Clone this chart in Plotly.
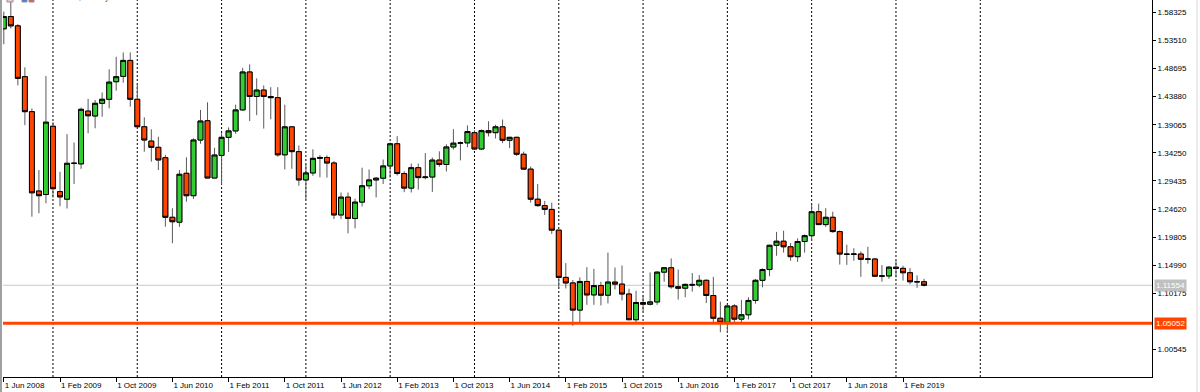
import plotly.graph_objects as go
import pandas as pd
import numpy as np

# Monthly EURUSD candles, Jun 2008 .. May 2019
open_ = [
    1.5550, 1.5760, 1.5600, 1.4730, 1.4130, 1.2770, 1.2710,
    1.3880, 1.2760, 1.2630, 1.3245, 1.3235, 1.4140, 1.4056, 1.4273, 1.4342, 1.4643, 1.4734, 1.5008,
    1.4342, 1.3872, 1.3626, 1.3519, 1.3341, 1.2320, 1.2236, 1.3074, 1.2690, 1.3644, 1.3975, 1.2993,
    1.3380, 1.3690, 1.3800, 1.4160, 1.4810, 1.4390, 1.4500, 1.4390, 1.4370, 1.3390, 1.3870, 1.3445,
    1.2960, 1.3080, 1.3330, 1.3345, 1.3250, 1.2360, 1.2665, 1.2300, 1.2580, 1.2860, 1.2960, 1.2990,
    1.3200, 1.3580, 1.3070, 1.2820, 1.3170, 1.3000, 1.3010, 1.3300, 1.3225, 1.3525, 1.3590, 1.3595,
    1.3770, 1.3490, 1.3805, 1.3770, 1.3870, 1.3640, 1.3690, 1.3400, 1.3145, 1.2630, 1.2520, 1.2455,
    1.2100, 1.1290, 1.1195, 1.0730, 1.1220, 1.0990, 1.1150, 1.0985, 1.1210, 1.1175, 1.1005, 1.0565,
    1.0860, 1.0830, 1.0870, 1.1380, 1.1455, 1.1130, 1.1105, 1.1170, 1.1160, 1.1240, 1.0980, 1.0590,
    1.0520, 1.0800, 1.0575, 1.0650, 1.0895, 1.1240, 1.1425, 1.1840, 1.1910, 1.1815, 1.1645, 1.1905,
    1.2005, 1.2415, 1.2195, 1.2320, 1.2075, 1.1690, 1.1685, 1.1690, 1.1600, 1.1605, 1.1310, 1.1315,
    1.1465, 1.1445, 1.1370, 1.1215, 1.1215,
]
high = [
    1.5844, 1.6038, 1.5630, 1.4890, 1.4185, 1.3130, 1.4740,
    1.3950, 1.3100, 1.3745, 1.3600, 1.4200, 1.4350, 1.4330, 1.4460, 1.4856, 1.5070, 1.5145, 1.5145,
    1.4600, 1.4033, 1.3828, 1.3701, 1.3390, 1.2474, 1.3130, 1.3348, 1.3673, 1.4159, 1.4290, 1.3512,
    1.3760, 1.3860, 1.4250, 1.4880, 1.4940, 1.4700, 1.4580, 1.4550, 1.4550, 1.4250, 1.3875, 1.3550,
    1.3235, 1.3485, 1.3385, 1.3380, 1.3285, 1.2745, 1.2745, 1.2640, 1.3170, 1.3140, 1.3010, 1.3310,
    1.3600, 1.3710, 1.3110, 1.3240, 1.3240, 1.3420, 1.3345, 1.3450, 1.3570, 1.3830, 1.3620, 1.3895,
    1.3810, 1.3825, 1.3965, 1.3905, 1.3995, 1.3700, 1.3700, 1.3445, 1.3190, 1.2890, 1.2600, 1.2570,
    1.2100, 1.1535, 1.1245, 1.1290, 1.1465, 1.1435, 1.1215, 1.1715, 1.1460, 1.1495, 1.1095, 1.1060,
    1.0990, 1.1375, 1.1395, 1.1460, 1.1615, 1.1425, 1.1185, 1.1365, 1.1330, 1.1255, 1.1300, 1.0875,
    1.0830, 1.0830, 1.0905, 1.0950, 1.1265, 1.1445, 1.1850, 1.2070, 1.2090, 1.1880, 1.1960, 1.2025,
    1.2535, 1.2555, 1.2475, 1.2415, 1.2095, 1.1850, 1.1790, 1.1735, 1.1815, 1.1625, 1.1500, 1.1485,
    1.1570, 1.1490, 1.1450, 1.1325, 1.1265,
]
low = [
    1.5285, 1.5555, 1.4580, 1.3900, 1.2330, 1.2390, 1.2560,
    1.2660, 1.2510, 1.2470, 1.2890, 1.3150, 1.3760, 1.3845, 1.4043, 1.4187, 1.4489, 1.4626, 1.4215,
    1.3870, 1.3444, 1.3273, 1.3130, 1.2159, 1.1876, 1.2155, 1.2587, 1.2635, 1.3580, 1.2990, 1.2990,
    1.2870, 1.3440, 1.3750, 1.4150, 1.3970, 1.4070, 1.3840, 1.4000, 1.3360, 1.3140, 1.3150, 1.2860,
    1.2625, 1.3030, 1.3005, 1.3000, 1.2290, 1.2290, 1.2045, 1.2130, 1.2505, 1.2800, 1.2660, 1.2890,
    1.3000, 1.3035, 1.2750, 1.2745, 1.2795, 1.2970, 1.2755, 1.3185, 1.3105, 1.3480, 1.3295, 1.3520,
    1.3480, 1.3475, 1.3705, 1.3670, 1.3590, 1.3505, 1.3370, 1.3135, 1.2570, 1.2500, 1.2360, 1.2035,
    1.1095, 1.1100, 1.0460, 1.0520, 1.0820, 1.0820, 1.0810, 1.0845, 1.1085, 1.0895, 1.0560, 1.0520,
    1.0710, 1.0810, 1.0820, 1.1215, 1.1095, 1.0910, 1.0950, 1.1045, 1.1120, 1.0850, 1.0505, 1.0350,
    1.0340, 1.0495, 1.0495, 1.0570, 1.0840, 1.1120, 1.1310, 1.1660, 1.1715, 1.1575, 1.1555, 1.1715,
    1.1915, 1.2205, 1.2155, 1.2055, 1.1510, 1.1505, 1.1575, 1.1300, 1.1525, 1.1300, 1.1215, 1.1265,
    1.1290, 1.1235, 1.1175, 1.1110, 1.1135,
]
close = [
    1.5760, 1.5600, 1.4700, 1.4130, 1.2740, 1.2690, 1.3950,
    1.2810, 1.2670, 1.3245, 1.3245, 1.4170, 1.4060, 1.4273, 1.4342, 1.4636, 1.4729, 1.5008, 1.4342,
    1.3872, 1.3644, 1.3519, 1.3302, 1.2320, 1.2244, 1.3057, 1.2690, 1.3644, 1.3970, 1.2993, 1.3387,
    1.3690, 1.3800, 1.4160, 1.4810, 1.4390, 1.4500, 1.4390, 1.4370, 1.3390, 1.3870, 1.3445, 1.2960,
    1.3080, 1.3330, 1.3345, 1.3250, 1.2360, 1.2665, 1.2300, 1.2580, 1.2860, 1.2960, 1.2990, 1.3200,
    1.3580, 1.3070, 1.2820, 1.3170, 1.3000, 1.3010, 1.3300, 1.3225, 1.3525, 1.3590, 1.3595, 1.3790,
    1.3490, 1.3805, 1.3770, 1.3870, 1.3640, 1.3690, 1.3400, 1.3145, 1.2630, 1.2520, 1.2455, 1.2100,
    1.1290, 1.1195, 1.0730, 1.1220, 1.0990, 1.1150, 1.0985, 1.1210, 1.1175, 1.1005, 1.0565, 1.0860,
    1.0830, 1.0870, 1.1380, 1.1455, 1.1130, 1.1105, 1.1170, 1.1160, 1.1240, 1.0980, 1.0590, 1.0520,
    1.0800, 1.0575, 1.0650, 1.0895, 1.1240, 1.1425, 1.1840, 1.1910, 1.1815, 1.1645, 1.1905, 1.2005,
    1.2415, 1.2195, 1.2320, 1.2075, 1.1690, 1.1685, 1.1690, 1.1600, 1.1605, 1.1310, 1.1315, 1.1465,
    1.1445, 1.1370, 1.1215, 1.1215, 1.1155,
]
months = pd.date_range("2008-06-01", periods=len(close), freq="MS")
bid_price = 1.11554
level_price = 1.05052
price_ticks = [1.00545, 1.10175, 1.14990, 1.19805, 1.24620, 1.29435,
               1.34250, 1.39065, 1.43880, 1.48695, 1.53510, 1.58325]
label_step = 8              # months between time labels
grid_years = list(range(2009, 2021))  # dashed grid at 1 Jan of these years

x = np.arange(len(months))
o = np.array(open_); h = np.array(high); l = np.array(low); c = np.array(close)
body_hi = np.maximum(o, c)
body_lo = np.minimum(o, c)

BULL = "#32CD32"
BEAR = "#FF4500"
FONT = "Liberation Sans"

fig = go.Figure()
# wicks (grey)
fig.add_trace(go.Candlestick(
    x=x, open=o, high=h, low=l, close=c,
    increasing=dict(line=dict(color="#5a5a5a", width=1), fillcolor=BULL),
    decreasing=dict(line=dict(color="#5a5a5a", width=1), fillcolor=BEAR),
    whiskerwidth=0, hoverinfo="skip", showlegend=False,
))
# bodies (black outline)
fig.add_trace(go.Candlestick(
    x=x, open=o, high=body_hi, low=body_lo, close=c,
    increasing=dict(line=dict(color="#000000", width=1), fillcolor=BULL),
    decreasing=dict(line=dict(color="#000000", width=1), fillcolor=BEAR),
    whiskerwidth=0, showlegend=False,
))

tick_idx = list(range(0, len(months), label_step))
tick_txt = [f"1 {months[i].strftime('%b %Y')}" for i in tick_idx]
start_y, start_m = months[0].year, months[0].month
grid_idx = [(yr - start_y) * 12 + (1 - start_m) for yr in grid_years]

W, H = 1200, 392
ml, mr, mt, mb = 3, 48, 0, 15
pw = W - ml - mr
ph = H - mt - mb
px_per_month = 7.025
x0 = -0.8 / px_per_month
x1 = x0 + pw / px_per_month

fig.update_layout(
    width=W, height=H,
    margin=dict(l=ml, r=mr, t=mt, b=mb, pad=0),
    paper_bgcolor="white", plot_bgcolor="white",
    boxgap=0.3, boxgroupgap=0.0,
    font=dict(family=FONT, size=8, color="black"),
    xaxis=dict(
        range=[x0, x1], rangeslider=dict(visible=False),
        tickmode="array", tickvals=tick_idx, ticktext=tick_txt,
        ticks="outside", ticklen=4, tickcolor="black", tickwidth=1,
        ticklabelposition="outside right",
        showline=True, linecolor="black", linewidth=1,
        showgrid=False, zeroline=False,
        tickfont=dict(family=FONT, size=8, color="black"),
    ),
    yaxis=dict(
        side="right", range=[0.95833, 1.60433],
        tickmode="array", tickvals=price_ticks,
        ticktext=[f"{v:.5f}" for v in price_ticks],
        ticks="outside", ticklen=3, tickcolor="black",
        showline=True, linecolor="black", linewidth=1,
        showgrid=False, zeroline=False,
        tickfont=dict(family=FONT, size=8, color="black"),
    ),
    showlegend=False,
)

# yearly dashed grid
for gi in grid_idx:
    fig.add_shape(type="line", xref="x", yref="paper", x0=gi, x1=gi, y0=0, y1=1,
                  line=dict(color="black", width=1, dash="2px,2px"), layer="below")

# bid line and level line
fig.add_hline(y=bid_price, line=dict(color="#C8C8C8", width=1), layer="below")
fig.add_hline(y=level_price, line=dict(color=BEAR, width=3), layer="above")

for price, bg in [(bid_price, "#C0C0C0"), (level_price, BEAR)]:
    fig.add_annotation(
        x=1, xref="paper", y=price, yref="y", xanchor="left", yanchor="middle",
        xshift=2, text=f"{price:.5f}", showarrow=False,
        font=dict(family=FONT, size=8, color="white"),
        bgcolor=bg, borderpad=1,
    )

# window frame lines
fig.add_shape(type="rect", xref="paper", yref="paper",
              x0=-3 / pw, x1=-1 / pw, y0=-mb / ph, y1=1,
              fillcolor="#A0A0A0", line=dict(width=0))
fig.add_shape(type="line", xref="paper", yref="paper",
              x0=(1197 - ml) / pw, x1=(1197 - ml) / pw, y0=-mb / ph, y1=1,
              line=dict(color="#D8D8D8", width=1))

# chart title (mostly cut off at the top edge, as in the terminal window)
fig.add_annotation(x=40 / pw, xref="paper", y=1, yref="paper",
                   xanchor="left", yanchor="bottom", yshift=-4,
                   text="EURUSD,Monthly", showarrow=False,
                   font=dict(family=FONT, size=8, color="#303030"))
for xa, xb, col in [(7, 13, "#F0C8C8"), (22, 27, "#6070E0"), (29, 34, "#D06060")]:
    fig.add_shape(type="rect", xref="paper", yref="paper",
                  x0=(xa - ml) / pw, x1=(xb - ml) / pw, y0=1 - 2 / ph, y1=1.01,
                  fillcolor=col, line=dict(color="#909090", width=1))

fig.write_html("out.html")
